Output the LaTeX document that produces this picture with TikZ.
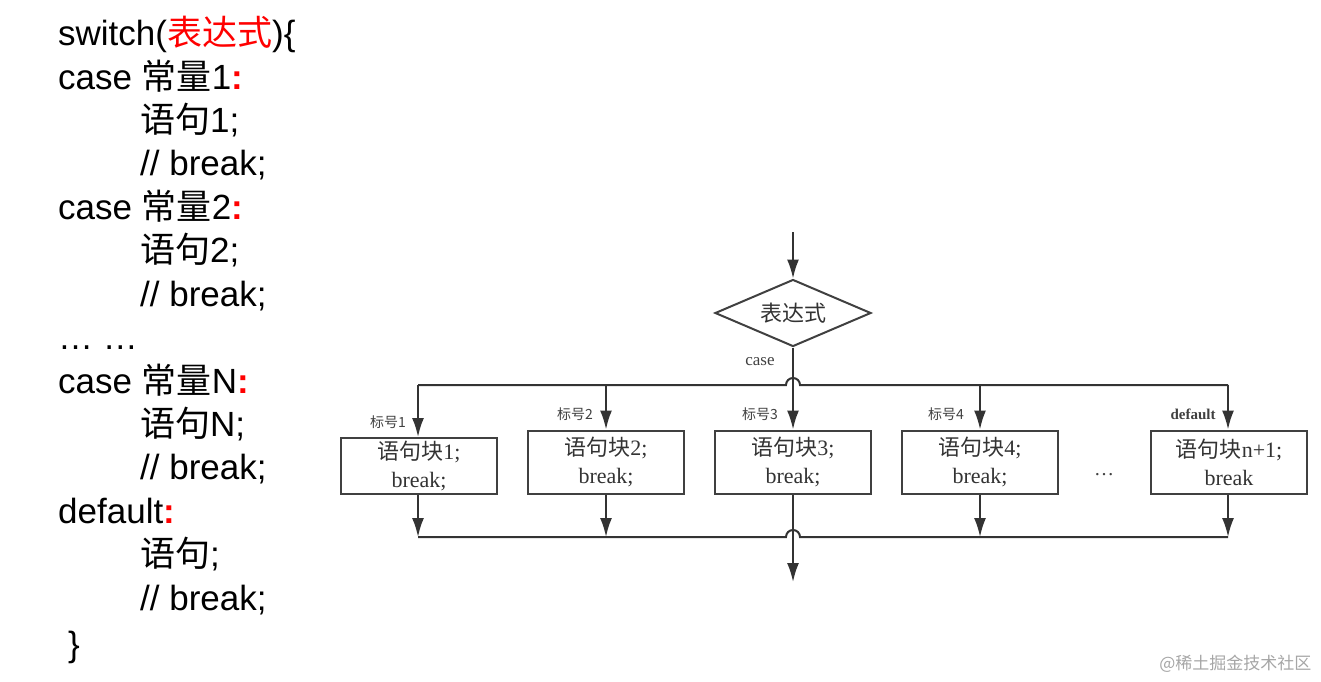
\documentclass[tikz,border=0pt]{standalone}
\usepackage{fontspec}
\setmainfont{Liberation Sans}
\newfontfamily\cjk{Noto Sans CJK SC}
\newfontfamily\serf{Liberation Serif}
\usetikzlibrary{arrows.meta,shapes.geometric}
\newcommand\redcolon{\textcolor{red}{\textbf{:}}}
\begin{document}
\begin{tikzpicture}[x=1pt,y=-1pt,
  code/.style={anchor=base west,inner sep=0pt,font=\fontsize{35}{35}\selectfont},
  blk/.style={draw=black!75,line width=2pt,minimum width=156pt,minimum height=63pt,inner sep=0pt,align=center,font=\serf\fontsize{22}{28}\selectfont,text=black!80},
  lbl/.style={font=\serf\fontsize{15}{15}\selectfont,text=black!75,inner sep=0pt},
  ln/.style={draw=black!80,line width=2pt},
  arr/.style={ln,-{Latex[length=19pt,width=12pt]}}]
\useasboundingbox (0,0) rectangle (1321,681);
% code
\node[code] (c1) at (58,45) {switch(\textcolor{red}{\cjk 表达式})\{};
\node[code] (c2) at (58,89) {case {\cjk 常量}1\redcolon};
\node[code] (c3) at (140,132) {{\cjk 语句}1;};
\node[code] (c4) at (140,175) {// break;};
\node[code] (c5) at (58,219) {case {\cjk 常量}2\redcolon};
\node[code] (c6) at (140,262) {{\cjk 语句}2;};
\node[code] (c7) at (140,306) {// break;};
\node[code] (c8) at (58,349) {… …};
\node[code] (c9) at (58,393) {case {\cjk 常量}N\redcolon};
\node[code] (c10) at (140,436) {{\cjk 语句}N;};
\node[code] (c11) at (140,479) {// break;};
\node[code] (c12) at (58,523) {default\redcolon};
\node[code] (c13) at (140,566) {{\cjk 语句};};
\node[code] (c14) at (140,610) {// break;};
\node[code] (c15) at (68,656) {\}};
% diagram
\coordinate (top) at (793,232);
\node[draw=black!75,line width=2pt,diamond,aspect=2.3,minimum width=156pt,minimum height=67pt,inner sep=0pt,font=\cjk\fontsize{22}{22}\selectfont,text=black!80] (d) at (793,313) {表达式};
\draw[arr] (top) -- (d.north);
\node[lbl,font=\serf\fontsize{17}{17}\selectfont] (case) at (760,362) {case};
\node[blk,minimum height=56pt] (b1) at (419,466) {{\cjk 语句块}1;\\break;};
\node[blk] (b2) at (606,462) {{\cjk 语句块}2;\\break;};
\node[blk] (b3) at (793,462) {{\cjk 语句块}3;\\break;};
\node[blk] (b4) at (980,462) {{\cjk 语句块}4;\\break;};
\node[blk] (b5) at (1229,462) {{\cjk 语句块}n+1;\\break};
\node[lbl,font=\serf\fontsize{20}{20}\selectfont] (dots) at (1104,475) {…};
\node[lbl,font=\cjk\fontsize{14}{14}\selectfont] (l1) at (388,422) {标号1};
\node[lbl,font=\cjk\fontsize{14}{14}\selectfont] (l2) at (575,414) {标号2};
\node[lbl,font=\cjk\fontsize{14}{14}\selectfont] (l3) at (760,414) {标号3};
\node[lbl,font=\cjk\fontsize{14}{14}\selectfont] (l4) at (946,414) {标号4};
\node[lbl,font=\serf\bfseries\fontsize{15}{15}\selectfont] (l5) at (1193,414) {default};
\coordinate (h1) at (418,385);
\coordinate (h5) at (1228,385);
\coordinate (f1) at (418,537);
\coordinate (f5) at (1228,537);
\coordinate (out) at (793,582);
% top bus with hop
\draw[ln] (h1) -- (786,385) arc (180:360:7) -- (h5);
\draw[arr] (h1) -- (b1.north -| h1);
\draw[arr] (606,385) -- (b2.north);
\draw[arr] (d.south) -- (b3.north);
\draw[arr] (980,385) -- (b4.north);
\draw[arr] (h5) -- (b5.north -| h5);
% bottom bus
\draw[arr] (b1.south -| f1) -- (f1);
\draw[arr] (b2.south) -- (606,537);
\draw[arr] (b4.south) -- (980,537);
\draw[arr] (b5.south -| f5) -- (f5);
\draw[ln] (f1) -- (786,537) arc (180:360:7) -- (f5);
\draw[arr] (b3.south) -- (out);
\node[font=\cjk\fontsize{17}{17}\selectfont,text=black!35,anchor=east] (wm) at (1315,664) {@稀土掘金技术社区};
\end{tikzpicture}
\end{document}
